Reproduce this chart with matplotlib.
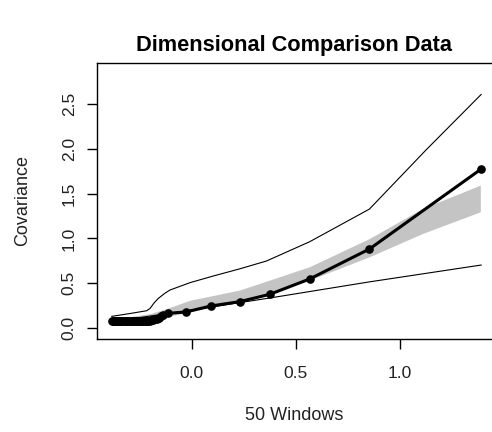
import matplotlib
matplotlib.use("Agg")
import matplotlib.pyplot as plt

# black series (50 windows)
win_x = [-0.383, -0.378, -0.373, -0.368, -0.363, -0.358, -0.353, -0.348, -0.343, -0.338,
         -0.333, -0.328, -0.322, -0.316, -0.310, -0.304, -0.298, -0.292, -0.286, -0.280,
         -0.274, -0.268, -0.262, -0.256, -0.250, -0.244, -0.238, -0.232, -0.226, -0.220,
         -0.214, -0.208, -0.202, -0.196, -0.190, -0.184, -0.176, -0.168, -0.158, -0.148,
         -0.135, -0.112, -0.029, 0.091, 0.230, 0.375, 0.566, 0.853, 1.389]
win_y = [0.080, 0.078, 0.077, 0.077, 0.076, 0.076, 0.076, 0.076, 0.076, 0.076,
         0.076, 0.076, 0.076, 0.076, 0.076, 0.076, 0.077, 0.077, 0.077, 0.077,
         0.077, 0.077, 0.078, 0.078, 0.078, 0.078, 0.079, 0.079, 0.080, 0.080,
         0.081, 0.082, 0.083, 0.085, 0.087, 0.090, 0.095, 0.102, 0.115, 0.130,
         0.145, 0.164, 0.178, 0.245, 0.294, 0.376, 0.547, 0.882, 1.775]

# upper envelope
up_x = [-0.383, -0.300, -0.215, -0.199, -0.180, -0.160, -0.130, -0.104, -0.008, 0.103,
        0.230, 0.359, 0.566, 0.853, 1.124, 1.389]
up_y = [0.130, 0.160, 0.193, 0.220, 0.280, 0.330, 0.385, 0.424, 0.506, 0.580,
        0.660, 0.748, 0.963, 1.328, 1.987, 2.608]

# lower envelope
lo_x = [-0.383, 0.000, 0.375, 0.853, 1.389]
lo_y = [0.072, 0.200, 0.335, 0.515, 0.703]

# grey band
band_x = [-0.300, -0.200, -0.117, -0.008, 0.230, 0.375, 0.566, 0.853, 1.108, 1.385]
band_hi = [0.125, 0.160, 0.220, 0.310, 0.424, 0.536, 0.685, 1.000, 1.336, 1.596]
band_lo = [0.110, 0.115, 0.126, 0.182, 0.294, 0.387, 0.536, 0.796, 1.056, 1.298]

fig = plt.figure(figsize=(4.92, 4.32), dpi=100)
W, H = 492, 432
ax = fig.add_axes([97 / W, (H - 339) / H, 400 / W, 276.5 / H])

ax.fill_between(band_x, band_lo, band_hi, color="#c4c4c4", linewidth=0, zorder=1)
ax.plot(up_x, up_y, color="black", linewidth=0.8, zorder=2)
ax.plot(lo_x, lo_y, color="black", linewidth=0.8, zorder=2)
ax.plot(win_x, win_y, color="black", linewidth=2.2, marker="o", markersize=5.2, zorder=3)

ax.set_xlim(-0.454, 1.465)
ax.set_ylim(-0.123, 2.965)
ax.set_xticks([0.0, 0.5, 1.0])
ax.set_xticklabels(["0.0", "0.5", "1.0"])
ax.set_yticks([0.0, 0.5, 1.0, 1.5, 2.0, 2.5])
ax.set_yticklabels(["0.0", "0.5", "1.0", "1.5", "2.0", "2.5"], rotation=90, va="center")

for s in ax.spines.values():
    s.set_linewidth(1.0)
ax.tick_params(direction="out", length=7.5, width=1.0, labelsize=12.5)
ax.tick_params(axis="x", pad=12)
ax.tick_params(axis="y", pad=7)
for lbl in ax.get_xticklabels() + ax.get_yticklabels():
    lbl.set_family("Liberation Sans")
    lbl.set_color("#222222")

fig.text(0.5 * (97 + 492) / W, 1 - 45 / H, "Dimensional Comparison Data",
         ha="center", va="center", fontsize=15.7, fontweight="bold", family="Liberation Sans")
fig.text(0.5 * (97 + 492) / W, 1 - 416 / H, "50 Windows",
         ha="center", va="center", fontsize=13, family="Liberation Sans", color="#222222")
fig.text(23 / W, 1 - 201 / H, "Covariance", rotation=90,
         ha="center", va="center", fontsize=13, family="Liberation Sans", color="#222222")

fig.savefig("out.png", dpi=100)
